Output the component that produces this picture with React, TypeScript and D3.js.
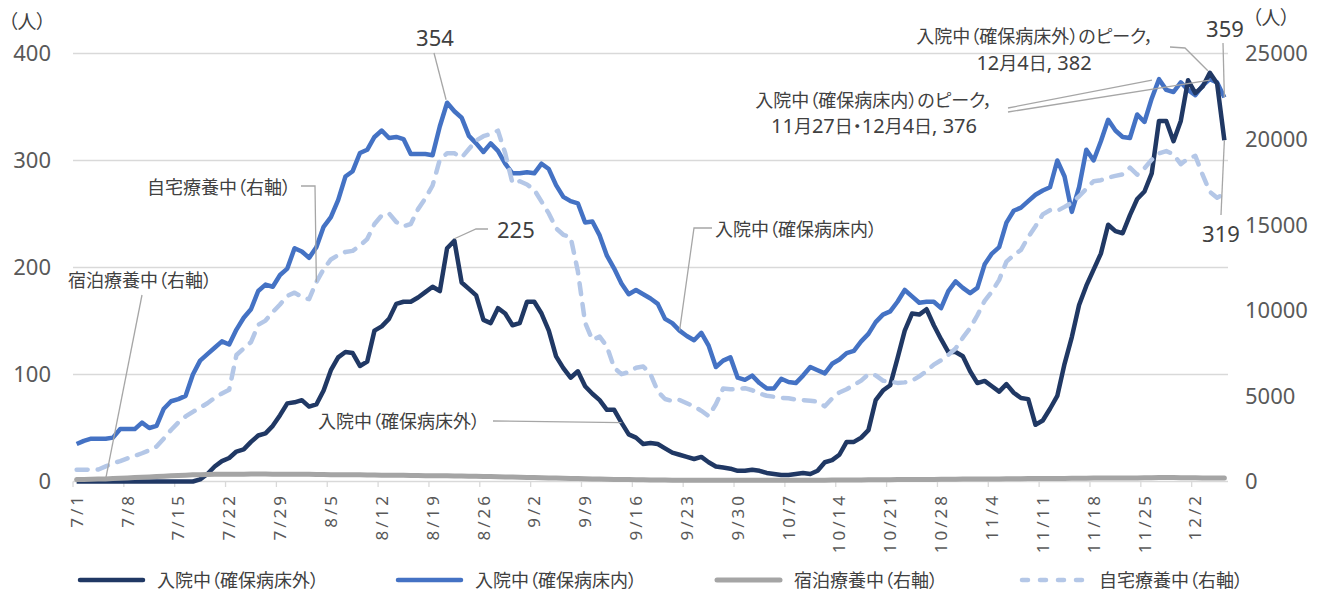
import React from 'react';
import * as d3 from 'd3';

const W = 1330;
const H = 592;

// 7/1 .. 12/6, one category per day
const dates = d3.timeDay
  .range(new Date(2020, 6, 1), new Date(2020, 11, 7))
  .map(d => d3.timeFormat('%-m/%-d')(d));

const leftTicks = [0, 100, 200, 300, 400];
const rightTicks = [0, 5000, 10000, 15000, 20000, 25000];

// 入院中(確保病床外)
const outsideBeds = [
  0, 0, 0, 0, 0, 0, 0, 0, 0, 0, 0, 0, 0, 0, 0, 0, 0, 2, 7, 14,
  19, 22, 28, 30, 37, 43, 45, 52, 62, 73, 74, 76, 70, 72, 85, 104, 116, 121, 120, 108,
  112, 141, 145, 152, 166, 168, 168, 172, 177, 182, 178, 218, 225, 186, 180, 174, 151, 148, 162, 157,
  146, 148, 168, 168, 157, 141, 117, 106, 97, 103, 89, 82, 76, 67, 67, 55, 44, 41, 35, 36,
  35, 31, 27, 25, 23, 21, 23, 18, 14, 13, 12, 10, 10, 11, 10, 8, 7, 6, 6, 7,
  8, 7, 10, 18, 20, 25, 37, 37, 41, 48, 76, 85, 90, 115, 141, 157, 156, 161, 146, 133,
  121, 121, 117, 103, 92, 94, 89, 84, 91, 83, 78, 77, 53, 57, 68, 80, 110, 135, 165, 183,
  198, 213, 240, 234, 232, 249, 264, 271, 288, 337, 337, 318, 337, 375, 363, 369, 382, 372, 319,
];

// 入院中(確保病床内)
const insideBeds = [
  35, 38, 40, 40, 40, 41, 49, 49, 49, 55, 50, 52, 68, 75, 77, 80, 100, 113, 119, 125,
  131, 128, 142, 153, 161, 178, 184, 182, 193, 199, 218, 215, 209, 219, 238, 247, 263, 285, 290, 307,
  310, 322, 328, 321, 322, 320, 306, 306, 306, 305, 332, 354, 346, 340, 323, 316, 308, 316, 309, 297,
  288, 288, 289, 288, 297, 292, 277, 266, 262, 260, 242, 243, 230, 211, 199, 185, 175, 179, 175, 171,
  166, 152, 148, 141, 136, 132, 139, 127, 107, 113, 116, 97, 95, 99, 92, 87, 87, 96, 93, 92,
  99, 107, 104, 101, 110, 114, 120, 122, 131, 138, 149, 156, 159, 168, 179, 173, 167, 168, 168, 162,
  178, 187, 181, 176, 181, 203, 213, 219, 242, 253, 256, 262, 268, 272, 275, 300, 285, 252, 275, 310,
  300, 318, 338, 328, 322, 321, 343, 336, 358, 376, 366, 364, 373, 366, 361, 370, 376, 373, 359,
];

// 宿泊療養中(右軸)
const hotel = [
  110, 120, 130, 140, 150, 170, 190, 210, 230, 250, 270, 290, 310, 330, 350, 370, 390, 400, 410, 420,
  420, 430, 430, 430, 440, 440, 440, 430, 430, 420, 430, 430, 420, 410, 410, 400, 400, 400, 390, 390,
  380, 380, 370, 370, 360, 360, 350, 350, 340, 340, 330, 330, 320, 320, 310, 300, 290, 290, 280, 270,
  260, 250, 240, 230, 220, 210, 200, 190, 180, 170, 160, 150, 140, 130, 120, 110, 110, 100, 100, 90,
  90, 90, 80, 80, 80, 80, 80, 80, 80, 80, 80, 80, 80, 80, 80, 80, 80, 80, 80, 80,
  80, 80, 80, 80, 90, 90, 90, 90, 90, 100, 100, 100, 100, 110, 110, 110, 120, 120, 120, 130,
  130, 130, 140, 140, 140, 150, 150, 150, 160, 160, 160, 170, 170, 170, 180, 180, 180, 190, 190, 190,
  200, 200, 200, 200, 210, 210, 210, 220, 220, 230, 230, 230, 220, 220, 220, 210, 210, 200, 200,
];

// 自宅療養中(右軸)
const home = [
  680, 680, 700, 700, 880, 1070, 1190, 1350, 1500, 1650, 1820, 2040, 2510, 3010, 3450, 3800, 4070, 4320, 4570, 4890,
  5140, 5360, 7390, 7770, 8140, 9150, 9400, 9900, 10340, 10840, 11030, 10780, 10650, 11650, 12400, 12970, 13220, 13410, 13470, 13780,
  14160, 15040, 15540, 15660, 15160, 14910, 15040, 15910, 16540, 17290, 18800, 19170, 19170, 18920, 19420, 19920, 20170, 20300, 20490, 19170,
  17420, 17540, 17350, 17040, 16350, 15660, 14790, 14410, 14280, 12280, 9270, 8270, 8460, 7890, 6640, 6270, 6390, 6640, 6720, 6270,
  5260, 4820, 4700, 4760, 4570, 4390, 4130, 3820, 4510, 5430, 5390, 5390, 5450, 5330, 5140, 5010, 4950, 4890, 4860, 4790,
  4750, 4720, 4660, 4390, 4850, 5200, 5390, 5640, 5890, 6270, 6200, 5890, 5830, 5760, 5790, 5890, 6140, 6450, 6830, 7080,
  7390, 7770, 8400, 8960, 9710, 10550, 11090, 11780, 12840, 13220, 13530, 14280, 14910, 15600, 15850, 15810, 16040, 16290, 16660, 17100,
  17540, 17600, 17750, 17850, 17940, 18330, 17920, 18290, 18800, 19170, 19300, 19110, 18540, 18860, 19020, 17920, 16920, 16580, 16790,
];

const seriesNames = ['入院中（確保病床外）', '入院中（確保病床内）', '宿泊療養中（右軸）', '自宅療養中（右軸）'];
const colors = ['#203864', '#4472c4', '#a5a5a5', '#b4c7e7'];

const LATIN = '"Noto Sans", "DejaVu Sans", sans-serif';
const CJK = '"Noto Sans CJK JP", "Noto Sans", sans-serif';

// CJK runs and latin runs are drawn at different sizes (digits are wide in the original font)
const Label = ({ x, y, text, anchor = 'start', cjk = 18, latin = 22, fill = '#404040' }: any) => {
  const runs: string[] = text.match(/[\u0000-\u007f]+|[^\u0000-\u007f]+/g) || [];
  return (
    <text x={x} y={y} textAnchor={anchor} fill={fill} style={{ whiteSpace: 'pre' }}>
      {runs.map((r, i) =>
        /^[\u0000-\u007f]/.test(r)
          ? <tspan key={i} fontFamily={LATIN} fontSize={latin}>{r}</tspan>
          : <tspan key={i} fontFamily={CJK} fontSize={cjk} style={{ fontFeatureSettings: '"palt"' }}>{r}</tspan>
      )}
    </text>
  );
};

export default function App() {
  const x = d3.scaleBand<string>().domain(dates).range([73, 1228]);
  const yL = d3.scaleLinear().domain([0, 400]).range([481.5, 53.5]);
  const yR = d3.scaleLinear().domain([0, 25000]).range([481.5, 53.5]);
  const px = (i: number) => (x(dates[i]) as number) + x.bandwidth() / 2;

  const lineL = d3.line<number>().x((_, i) => px(i)).y(d => yL(d));
  const lineR = d3.line<number>().x((_, i) => px(i)).y(d => yR(d));

  const leader = '#a6a6a6';
  const pl = (pts: number[][]) => pts.map(p => p.join(',')).join(' ');

  const legendX = [80, 398, 717, 1022];

  return (
    <svg width={W} height={H} style={{ position: 'absolute', left: 0, top: 0, background: '#fff' }}>
      {/* grid */}
      {leftTicks.map(t => (
        <line key={t} x1={73} x2={1228} y1={yL(t)} y2={yL(t)} stroke="#d9d9d9" strokeWidth={1.3} />
      ))}
      {/* x ticks at week boundaries */}
      {dates.map((d, i) => i % 7 === 0 ? (
        <line key={d} x1={x(d)} x2={x(d)} y1={481.5} y2={487} stroke="#d9d9d9" strokeWidth={1.3} />
      ) : null)}

      {/* left axis */}
      {leftTicks.map(t => (
        <text key={t} x={51} y={yL(t)} dy="0.36em" textAnchor="end" fontFamily={LATIN} fontSize={22} fill="#595959">{t}</text>
      ))}
      {/* right axis */}
      {rightTicks.map(t => (
        <text key={t} x={1245} y={yR(t)} dy="0.36em" textAnchor="start" fontFamily={LATIN} fontSize={22} fill="#595959">{t}</text>
      ))}
      <Label x={8} y={29} text="（人）" cjk={19} fill="#404040" />
      <Label x={1252} y={25} text="（人）" cjk={19} fill="#404040" />

      {/* x labels */}
      {dates.map((d, i) => i % 7 === 0 ? (
        <text key={d} transform={`translate(${px(i)},493) rotate(-90)`} dy="0.36em" textAnchor="end"
          fontFamily={LATIN} fontSize={17} letterSpacing={3} fill="#595959">{d}</text>
      ) : null)}

      {/* series */}
      <path d={lineL(insideBeds) as string} fill="none" stroke={colors[1]} strokeWidth={4.5} strokeLinejoin="round" />
      <path d={lineL(outsideBeds) as string} fill="none" stroke={colors[0]} strokeWidth={4.5} strokeLinejoin="round" />
      <path d={lineR(hotel) as string} fill="none" stroke={colors[2]} strokeWidth={5} strokeLinejoin="round" strokeLinecap="round" />
      <path d={lineR(home) as string} fill="none" stroke={colors[3]} strokeWidth={4.5} strokeLinejoin="round"
        strokeLinecap="round" strokeDasharray="11 10" />

      {/* annotations */}
      <g fill="none" stroke={leader} strokeWidth={1.3}>
        <polyline points={pl([[434, 53], [px(51) - 1, yL(354) - 3]])} />
        <polyline points={pl([[488, 229], [476, 229], [px(52), yL(225) - 2]])} />
        <polyline points={pl([[493, 421], [px(75), yL(outsideBeds[75])]])} />
        <polyline points={pl([[712, 228], [694, 228], [px(83), yL(insideBeds[83])]])} />
        <polyline points={pl([[301, 186], [315, 186], [px(33), yR(home[33])]])} />
        <polyline points={pl([[142, 295], [px(4), yR(hotel[4])]])} />
        <polyline points={pl([[1170, 47], [1185, 48], [px(156) - 2, yL(382) - 2]])} />
        <polyline points={pl([[1008, 108], [px(149) - 7, yL(376) + 1]])} />
        <polyline points={pl([[1008, 112], [px(156), yL(376) + 1]])} />
        <polyline points={pl([[1223, 43], [px(158), yL(359)]])} />
        <polyline points={pl([[1221, 215], [px(158), yL(319)]])} />
      </g>

      <Label x={435} y={46} text="354" anchor="middle" />
      <Label x={497} y={238} text="225" />
      <Label x={1225} y={37} text="359" anchor="middle" />
      <Label x={1221} y={242} text="319" anchor="middle" />
      <Label x={318} y={428} text="入院中（確保病床外）" />
      <Label x={715} y={236} text="入院中（確保病床内）" />
      <Label x={147} y={194} text="自宅療養中（右軸）" />
      <Label x={68} y={287} text="宿泊療養中（右軸）" />
      <Label x={1035} y={43} text="入院中（確保病床外）のピーク，" anchor="middle" />
      <Label x={1034} y={70} text="12月4日, 382" anchor="middle" latin={20} />
      <Label x={874} y={107} text="入院中（確保病床内）のピーク，" anchor="middle" />
      <Label x={874} y={133} text="11月27日・12月4日, 376" anchor="middle" latin={20} />

      {/* legend */}
      {seriesNames.map((name, i) => (
        <g key={name} transform={`translate(${legendX[i]},580)`}>
          <line x1={0} x2={63} y1={0} y2={0} stroke={colors[i]} strokeWidth={i === 2 ? 5 : 4.5}
            strokeLinecap="round" strokeDasharray={i === 3 ? '6 12' : undefined} />
          <Label x={77} y={7} text={name} />
        </g>
      ))}
    </svg>
  );
}
